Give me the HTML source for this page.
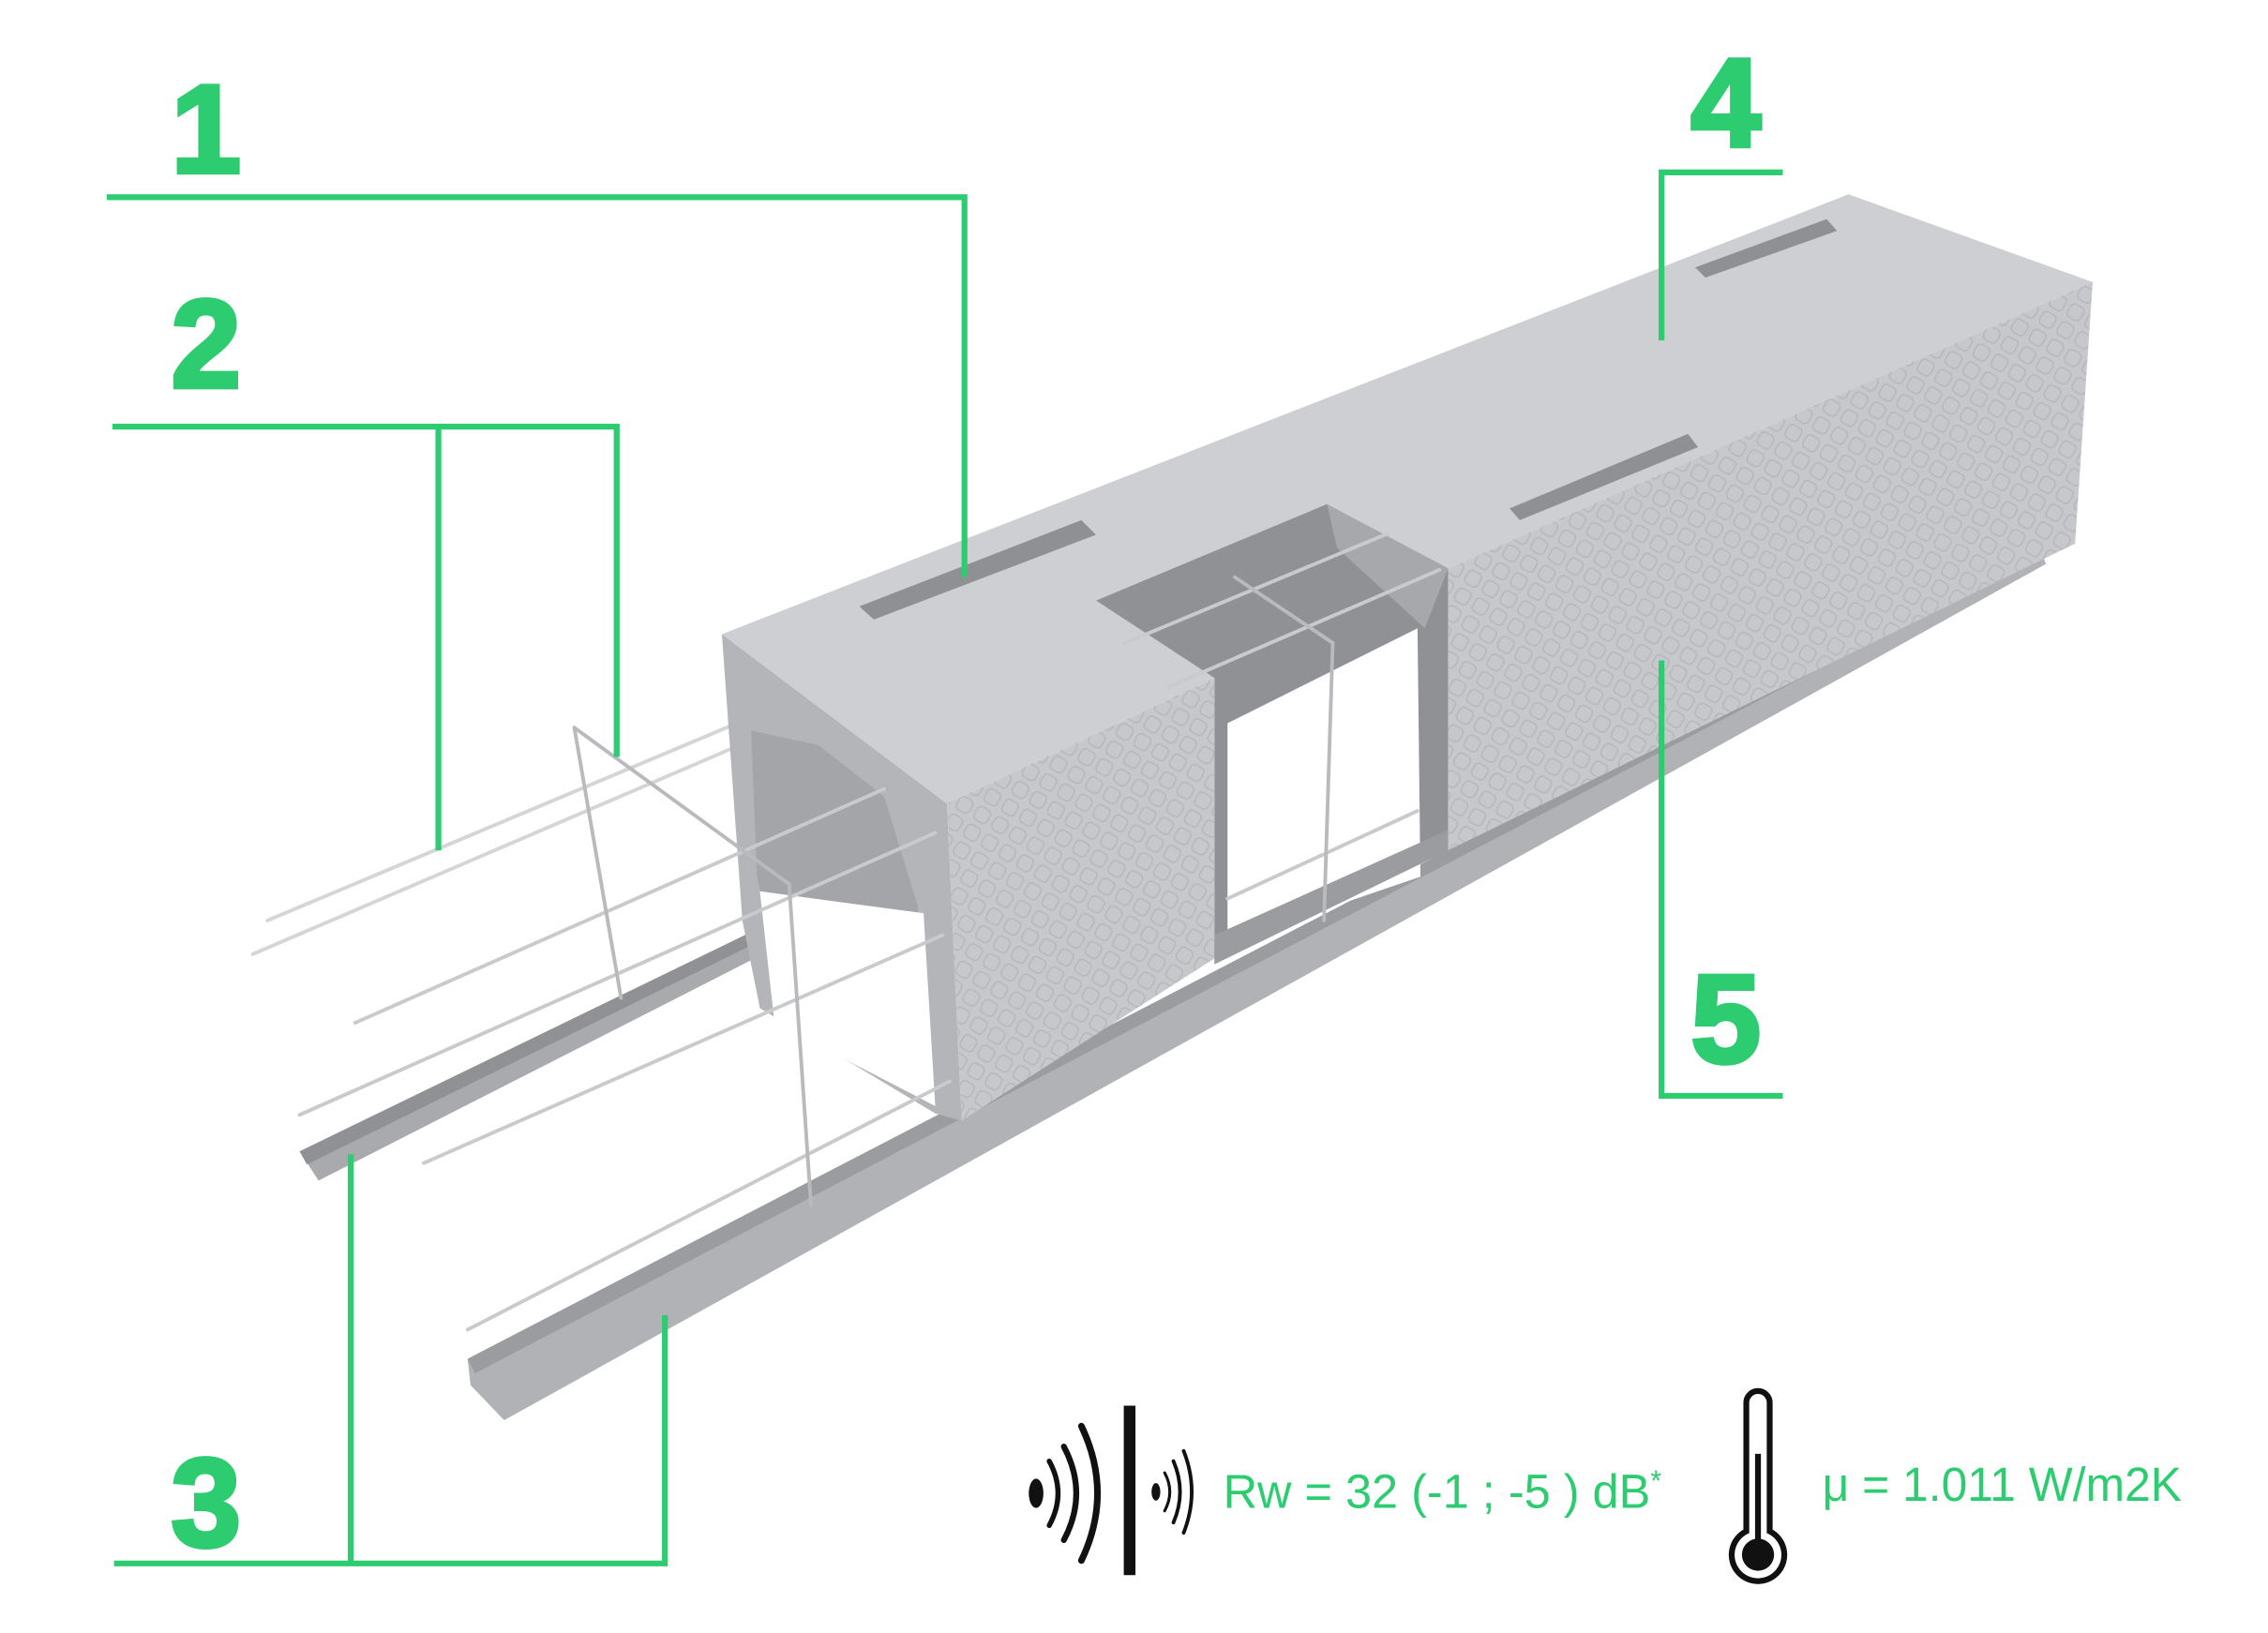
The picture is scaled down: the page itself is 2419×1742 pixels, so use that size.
<!DOCTYPE html>
<html><head><meta charset="utf-8"><style>
html,body{margin:0;padding:0;background:#fff;}
svg{display:block;}
</style></head><body>
<svg width="2419" height="1742" viewBox="0 0 1552 1117.6" preserveAspectRatio="none" xmlns="http://www.w3.org/2000/svg">
<defs>
<pattern id="dia" width="14" height="14" patternUnits="userSpaceOnUse" patternTransform="rotate(30)">
<rect width="14" height="14" fill="#c6c8cb"/>
<rect x="2" y="2" width="10" height="10" rx="3" fill="none" stroke="#b6b8bc" stroke-width="1"/>
</pattern>
</defs>
<g fill="none" stroke="#d4d5d7" stroke-width="2.5" stroke-linecap="round">
<line x1="183" y1="630" x2="540" y2="480"/>
<line x1="173" y1="653" x2="548" y2="492"/>
</g>
<!-- left rail -->
<polygon points="205,788 520,635 528,650 218,808" fill="#a8aaae"/>
<polygon points="205,788 520,635 524,642 210,797" fill="#8f9195"/>
<!-- bottom long rail -->
<polygon points="320,930 1395,372 1400,386 345,972 322,948" fill="#b0b2b6"/>
<polygon points="320,930 1395,372 1397,378 325,940" fill="#9a9ca0"/>
<!-- front face block 1 -->
<polygon points="494,434 648,550 658,767 640,762 520,690 508,630" fill="#b3b5b8"/>
<!-- tunnel interior -->
<polygon points="514,500 560,510 605,545 628,620 640,755 540,700 518,600" fill="#a3a5a9"/>
<polygon points="520,610 632,625 640,757 530,700" fill="#ffffff"/>
<!-- top face -->
<polygon points="494,434 1265,133 1432,193 991,389 908,345 750,411 831,464 648,550" fill="#cdcfd2"/>
<!-- slots -->
<polygon points="588,415 740,356 750,366 598,424" fill="#8e9094"/>
<polygon points="1033,348 1155,297 1162,306 1040,356" fill="#8e9094"/>
<polygon points="1160,183 1250,150 1257,158 1167,190" fill="#8e9094"/>
<!-- recess -->
<polygon points="750,411 908,345 991,389 991,580 831,655 831,464" fill="#8f9195"/>
<polygon points="908,345 991,389 975,430 915,375" fill="#a6a8ac"/>
<polygon points="840,495 970,430 972,600 840,645" fill="#ffffff"/>
<!-- side faces -->
<polygon points="648,550 831,464 831,656 658,767" fill="url(#dia)"/>
<polygon points="991,389 1432,193 1420,372 991,582" fill="url(#dia)"/>
<polygon points="831,640 991,568 991,582 831,660" fill="#9a9ca0"/>
<!-- wires -->
<g fill="none" stroke="#c9cacd" stroke-width="2.5" stroke-linecap="round">
<line x1="243" y1="700" x2="605" y2="540"/>
<line x1="205" y1="763" x2="640" y2="570"/>
<line x1="290" y1="796" x2="645" y2="640"/>
<line x1="320" y1="910" x2="650" y2="740"/>
<line x1="770" y1="440" x2="950" y2="365"/>
<line x1="800" y1="470" x2="985" y2="390"/>
<line x1="840" y1="615" x2="970" y2="555"/>
<polyline points="393,498 425,683" stroke="#b8babd"/>
<polyline points="393,498 540,605 555,825" stroke="#b8babd"/>
<polyline points="845,395 912,440 906,630" stroke="#b8babd"/>
</g>
<!-- green leaders -->
<g fill="none" stroke="#2ecc71" stroke-width="4">
<polyline points="73,135 660,135 660,395"/>
<polyline points="77,292 422,292 422,518"/>
<line x1="300" y1="292" x2="300" y2="582"/>
<polyline points="78,1070 455,1070 455,900"/>
<line x1="240" y1="1070" x2="240" y2="790"/>
<polyline points="1220,118 1137,118 1137,233"/>
<polyline points="1137,452 1137,750 1220,750"/>
</g>
<g font-family="Liberation Sans, sans-serif" font-weight="bold" font-size="86" fill="#2ecc71" stroke="#2ecc71" stroke-width="3" text-anchor="middle">
<text x="141" y="118">1</text>
<text x="141" y="265">2</text>
<text x="141" y="1058">3</text>
<text x="1181" y="100">4</text>
<text x="1181" y="727">5</text>
</g>
<g font-family="Liberation Sans Narrow, Liberation Sans, sans-serif" font-size="33" fill="#2ecc71">
<text x="837" y="1032" textLength="300" lengthAdjust="spacingAndGlyphs">Rw = 32 (-1 ; -5 ) dB<tspan font-size="20" dy="-12">*</tspan></text>
<text x="1247" y="1027" textLength="246" lengthAdjust="spacingAndGlyphs">μ = 1.011 W/m2K</text>
</g>
<!-- sound icon -->
<g fill="none" stroke="#111" stroke-linecap="round">
<ellipse cx="709" cy="1022" rx="5" ry="10" fill="#111" stroke="none"/>
<path d="M718,1000 Q730,1022 718,1044" stroke-width="3.5"/>
<path d="M728,990 Q745,1022 728,1054" stroke-width="4"/>
<path d="M740,976 Q762,1022 740,1068" stroke-width="4.5"/>
<line x1="773" y1="962" x2="773" y2="1078" stroke-width="8" stroke-linecap="butt"/>
<ellipse cx="791" cy="1021" rx="3" ry="6" fill="#111" stroke="none"/>
<path d="M797,1008 Q804,1021 797,1034" stroke-width="2"/>
<path d="M803,1000 Q812,1021 803,1042" stroke-width="2.5"/>
<path d="M810,993 Q821,1021 810,1049" stroke-width="2.5"/>
</g>
<!-- thermometer -->
<g>
<path d="M1195,1048 L1195,960 A8,8 0 0 1 1211,960 L1211,1048 A18,18 0 1 1 1195,1048 Z" fill="none" stroke="#111" stroke-width="4"/>
<line x1="1203" y1="995" x2="1203" y2="1055" stroke="#111" stroke-width="4"/>
<circle cx="1203" cy="1064" r="11" fill="#111"/>
</g>
</svg>
</body></html>
